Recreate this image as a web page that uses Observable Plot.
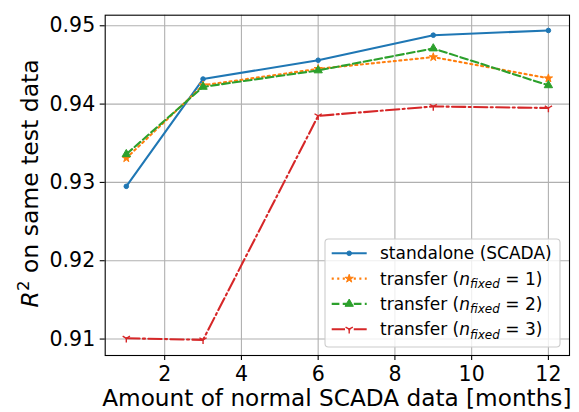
<!DOCTYPE html>
<html>
<head>
<meta charset="utf-8">
<script src="https://cdn.jsdelivr.net/npm/d3@7"></script>
<script src="https://cdn.jsdelivr.net/npm/@observablehq/plot@0.6"></script>
<style>
  body { margin: 0; background: #fff; }
  svg { display: block; }
</style>
</head>
<body>
<div id="chart"></div>
<script>
// Amount of normal SCADA training data (months)
const months = [1, 3, 6, 9, 12];

// R² on the same test data for each model variant
const standalone = [0.9295, 0.9432, 0.9456, 0.9488, 0.9494];
const transferFixed1 = [0.9331, 0.9424, 0.9445, 0.9460, 0.9433];
const transferFixed2 = [0.9336, 0.9422, 0.9443, 0.9471, 0.9424];
const transferFixed3 = [0.9101, 0.9099, 0.9385, 0.9397, 0.9395];

const seriesLabels = ["standalone (SCADA)", "transfer (n_fixed = 1)", "transfer (n_fixed = 2)", "transfer (n_fixed = 3)"];
const nFixed = [null, 1, 2, 3];

const xTicks = [2, 4, 6, 8, 10, 12];
const yTicks = [0.91, 0.92, 0.93, 0.94, 0.95];

// matplotlib-style "tri_down" marker: a Y made of three strokes
const triDown = {
  draw(context, size) {
    const r = Math.sqrt(size / Math.PI);
    context.moveTo(0, 0); context.lineTo(0, r);
    context.moveTo(0, 0); context.lineTo(-r * 0.866, -r * 0.5);
    context.moveTo(0, 0); context.lineTo(r * 0.866, -r * 0.5);
  }
};

const lw = 2.08;
const styles = [
  {color: "#1f77b4", dash: null, symbol: "circle", r: 2.3, filled: true},
  {color: "#ff7f0e", dash: [2.08, 3.44], symbol: "star", r: 2.6, filled: true},
  {color: "#2ca02c", dash: [7.7, 3.33], symbol: "triangle", r: 3.1, filled: true},
  {color: "#d62728", dash: [13.3, 3.33, 2.08, 3.33], symbol: triDown, r: 4.2, filled: false}
];

const allValues = [standalone, transferFixed1, transferFixed2, transferFixed3];
const tables = allValues.map(vals => months.map((m, i) => ({month: m, r2: vals[i]})));

const marks = [
  Plot.gridX(xTicks, {stroke: "#b0b0b0", strokeOpacity: 1, strokeWidth: 1.1}),
  Plot.gridY(yTicks, {stroke: "#b0b0b0", strokeOpacity: 1, strokeWidth: 1.1})
];
tables.forEach((rows, k) => {
  const s = styles[k];
  marks.push(Plot.line(rows, {
    x: "month", y: "r2", stroke: s.color, strokeWidth: lw,
    strokeDasharray: s.dash ? s.dash.join(",") : undefined
  }));
  marks.push(Plot.dot(rows, {
    x: "month", y: "r2", symbol: s.symbol, r: s.r,
    fill: s.filled ? s.color : "none", stroke: s.color,
    strokeWidth: s.filled ? 1 : 1.4
  }));
});
marks.push(
  Plot.frame({stroke: "black", strokeWidth: 1.1}),
  Plot.axisX({ticks: xTicks, tickSize: 5, tickPadding: 5.5, fontSize: 20.5, label: null,
              tickFormat: d => String(d), strokeWidth: 1.1}),
  Plot.axisY({ticks: yTicks, tickSize: 5, tickPadding: 5, fontSize: 20.5, label: null,
              tickFormat: d3.format(".2f"), strokeWidth: 1.1})
);

const W = 579, H = 412;
const M = {left: 104.7, right: 10, top: 14.7, bottom: 57};

const chart = Plot.plot({
  width: W, height: H,
  marginLeft: M.left, marginRight: M.right, marginTop: M.top, marginBottom: M.bottom,
  style: {fontFamily: "'DejaVu Sans', sans-serif", color: "black", background: "white", overflow: "visible"},
  x: {domain: [0.45, 12.55]},
  y: {domain: [0.9079, 0.95135]},
  marks
});
document.getElementById("chart").append(chart);

const svg = d3.select(chart);
const plotCx = (M.left + (W - M.right)) / 2;
const plotCy = (M.top + (H - M.bottom)) / 2;

// x axis title
svg.append("text")
  .attr("x", plotCx).attr("y", 406.4)
  .attr("text-anchor", "middle")
  .attr("font-size", 23.2).attr("fill", "black")
  .text("Amount of normal SCADA data [months]");

// y axis title: R² on same test data
const yl = svg.append("text")
  .attr("transform", `translate(38,${plotCy - 1.5}) rotate(-90)`)
  .attr("text-anchor", "middle")
  .attr("font-size", 23.5).attr("fill", "black");
yl.append("tspan").attr("font-style", "italic").text("R");
yl.append("tspan").attr("font-size", 16.5).attr("dy", -9).text("2");
yl.append("tspan").attr("dy", 9).text(" on same test data");

// legend, lower right inside the axes
const leg = svg.append("g").attr("text-anchor", "start");
leg.append("rect")
  .attr("x", 325).attr("y", 239).attr("width", 235).attr("height", 108)
  .attr("rx", 3.5).attr("ry", 3.5)
  .attr("fill", "white").attr("fill-opacity", 0.8)
  .attr("stroke", "#cccccc").attr("stroke-width", 1.1);

seriesLabels.forEach((label, k) => {
  const s = styles[k];
  const cy = 253.3 + k * 25.3;
  leg.append("line")
    .attr("x1", 331.7).attr("x2", 366.7).attr("y1", cy).attr("y2", cy)
    .attr("stroke", s.color).attr("stroke-width", lw)
    .attr("stroke-dasharray", s.dash ? s.dash.join(",") : null);
  const type = typeof s.symbol === "string"
    ? {circle: d3.symbolCircle, star: d3.symbolStar, triangle: d3.symbolTriangle}[s.symbol]
    : s.symbol;
  leg.append("path")
    .attr("transform", `translate(349.2,${cy})`)
    .attr("d", d3.symbol(type, Math.PI * s.r * s.r)())
    .attr("fill", s.filled ? s.color : "none")
    .attr("stroke", s.color).attr("stroke-width", s.filled ? 1 : 1.4);
  const t = leg.append("text")
    .attr("x", 380).attr("y", cy + 6)
    .attr("text-anchor", "start")
    .attr("font-size", 17).attr("fill", "black");
  if (nFixed[k] == null) {
    t.text(label);
  } else {
    t.append("tspan").text("transfer (");
    t.append("tspan").attr("font-style", "italic").text("n");
    t.append("tspan").attr("font-style", "italic").attr("font-size", 12).attr("dy", 3.5).text("fixed");
    t.append("tspan").attr("dy", -3.5).text(` = ${nFixed[k]})`);
  }
});
</script>
</body>
</html>
